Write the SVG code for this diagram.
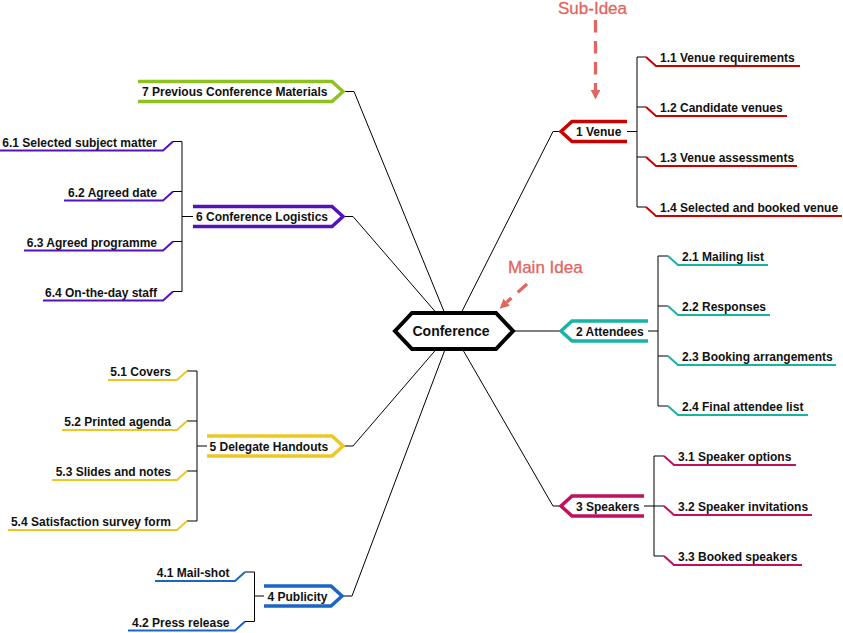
<svg xmlns="http://www.w3.org/2000/svg" width="843" height="633" viewBox="0 0 843 633">
<style>
text{font-family:"Liberation Sans",Arial,sans-serif;font-weight:bold;font-size:12px;fill:#111}
.l{text-anchor:end}
.conn{fill:none;stroke:#000;stroke-width:1}
.node{fill:none;stroke-width:3.5;stroke-linejoin:miter}
.sub{fill:none;stroke-width:2}
.ann{fill:none;stroke:#e06660;stroke-width:3.3;stroke-dasharray:12.5 8.5}
.annt{font-weight:normal;font-size:17px;fill:#e06660;stroke:#e06660;stroke-width:0.3}
</style>
<defs>
<marker id="ah" markerUnits="userSpaceOnUse" markerWidth="12" markerHeight="12" viewBox="0 -6 12 12" refX="0" refY="0" orient="auto">
<path d="M0,-4.8 L9.5,0 L0,4.8 z" fill="#e06660"/>
</marker>
</defs>
<g id="connectors">
<path class="conn" d="M452,331 L553,131.5 L561,131.5"/>
<path class="conn" d="M452,331 L561,331"/>
<path class="conn" d="M452,331 L553,506 L561,506"/>
<path class="conn" d="M452,331 L352,596 L342,596"/>
<path class="conn" d="M452,331 L353,446 L343,446"/>
<path class="conn" d="M452,331 L353,216.5 L343,216.5"/>
<path class="conn" d="M452,331 L354,91.5 L343,91.5"/>
<path class="conn" d="M627,131.5 H637 M637,57 V207 M637,57 H646 M637,107 H646 M637,157 H646 M637,207 H646"/>
<path class="conn" d="M648,331 H658 M658,256 V406 M658,256 H668 M658,306 H668 M658,356 H668 M658,406 H668"/>
<path class="conn" d="M644,506 H664 M654,456 V556 M654,456 H664 M654,556 H664"/>
<path class="conn" d="M193,216.5 H182 M182,141.5 V291.5 M182,141.5 H173 M182,191.5 H173 M182,241.5 H173 M182,291.5 H173"/>
<path class="conn" d="M207,446 H197 M197,371 V521 M197,371 H187 M197,421 H187 M197,471 H187 M197,521 H187"/>
<path class="conn" d="M264,596 H254.5 M254.5,572 V621.5 M254.5,572 H245 M254.5,621.5 H245"/>
</g>
<g id="main">
<polygon points="395,331 412,313 496,313 513,331 496,349 412,349" fill="#fff" stroke="#000" stroke-width="4"/>
<text x="451" y="336" text-anchor="middle" style="font-size:14px">Conference</text>
</g>
<g id="n1">
<polyline class="node" stroke="#c80000" points="627,121.5 572,121.5 561,131.5 572,141.5 627,141.5"/>
<text x="576" y="136">1 Venue</text>
</g>
<g id="n1-1"><polyline class="sub" stroke="#c80000" points="646,57 656,66 800,66"/><text x="660" y="62">1.1 Venue requirements</text></g>
<g id="n1-2"><polyline class="sub" stroke="#c80000" points="646,107 656,116 787,116"/><text x="660" y="112">1.2 Candidate venues</text></g>
<g id="n1-3"><polyline class="sub" stroke="#c80000" points="646,157 656,166 797,166"/><text x="660" y="162">1.3 Venue assessments</text></g>
<g id="n1-4"><polyline class="sub" stroke="#c80000" points="646,207 656,216 842,216"/><text x="660" y="212">1.4 Selected and booked venue</text></g>
<g id="n2">
<polyline class="node" stroke="#17b4a4" points="648,321 572,321 561,331 572,341 648,341"/>
<text x="576" y="335.5">2 Attendees</text>
</g>
<g id="n2-1"><polyline class="sub" stroke="#17b4a4" points="668,256 678,265 768,265"/><text x="682" y="261">2.1 Mailing list</text></g>
<g id="n2-2"><polyline class="sub" stroke="#17b4a4" points="668,306 678,315 770,315"/><text x="682" y="311">2.2 Responses</text></g>
<g id="n2-3"><polyline class="sub" stroke="#17b4a4" points="668,356 678,365 836,365"/><text x="682" y="361">2.3 Booking arrangements</text></g>
<g id="n2-4"><polyline class="sub" stroke="#17b4a4" points="668,406 678,415 808,415"/><text x="682" y="411">2.4 Final attendee list</text></g>
<g id="n3">
<polyline class="node" stroke="#c0105f" points="644,496 572,496 561,506 572,516 644,516"/>
<text x="576" y="510.5">3 Speakers</text>
</g>
<g id="n3-1"><polyline class="sub" stroke="#c0105f" points="664,456 674,465 796,465"/><text x="678" y="461">3.1 Speaker options</text></g>
<g id="n3-2"><polyline class="sub" stroke="#c0105f" points="664,506 674,515 812,515"/><text x="678" y="511">3.2 Speaker invitations</text></g>
<g id="n3-3"><polyline class="sub" stroke="#c0105f" points="664,556 674,565 802,565"/><text x="678" y="561">3.3 Booked speakers</text></g>
<g id="n4">
<polyline class="node" stroke="#1a66c2" points="264,586 331,586 342,596 331,606 264,606"/>
<text x="267.5" y="600.5">4 Publicity</text>
</g>
<g id="n4-1"><polyline class="sub" stroke="#1a66c2" points="245,572 235,581 155,581"/><text class="l" x="229.5" y="577">4.1 Mail-shot</text></g>
<g id="n4-2"><polyline class="sub" stroke="#1a66c2" points="245,621.5 235,630.5 128,630.5"/><text class="l" x="229.5" y="626.5">4.2 Press release</text></g>
<g id="n5">
<polyline class="node" stroke="#ecc825" points="207,436 332,436 343,446 332,456 207,456"/>
<text x="209.5" y="450.5">5 Delegate Handouts</text>
</g>
<g id="n5-1"><polyline class="sub" stroke="#ecc825" points="187,371 177,380 108,380"/><text class="l" x="171" y="376">5.1 Covers</text></g>
<g id="n5-2"><polyline class="sub" stroke="#ecc825" points="187,421 177,430 62,430"/><text class="l" x="171" y="426">5.2 Printed agenda</text></g>
<g id="n5-3"><polyline class="sub" stroke="#ecc825" points="187,471 177,480 52,480"/><text class="l" x="171" y="476">5.3 Slides and notes</text></g>
<g id="n5-4"><polyline class="sub" stroke="#ecc825" points="187,521 177,530 8,530"/><text class="l" x="171" y="526">5.4 Satisfaction survey form</text></g>
<g id="n6">
<polyline class="node" stroke="#5412b8" points="193,206.5 332,206.5 343,216.5 332,226.5 193,226.5"/>
<text x="196" y="221">6 Conference Logistics</text>
</g>
<g id="n6-1"><polyline class="sub" stroke="#5412b8" points="173,141.5 163,150.5 0,150.5"/><text class="l" x="157" y="146.5">6.1 Selected subject matter</text></g>
<g id="n6-2"><polyline class="sub" stroke="#5412b8" points="173,191.5 163,200.5 64,200.5"/><text class="l" x="157" y="196.5">6.2 Agreed date</text></g>
<g id="n6-3"><polyline class="sub" stroke="#5412b8" points="173,241.5 163,250.5 24,250.5"/><text class="l" x="157" y="246.5">6.3 Agreed programme</text></g>
<g id="n6-4"><polyline class="sub" stroke="#5412b8" points="173,291.5 163,300.5 43,300.5"/><text class="l" x="157" y="296.5">6.4 On-the-day staff</text></g>
<g id="n7">
<polyline class="node" stroke="#8dc21f" points="138,81.5 332,81.5 343,91.5 332,101.5 138,101.5"/>
<text x="142" y="96">7 Previous Conference Materials</text>
</g>
<g id="annotations">
<text class="annt" x="558" y="13.5">Sub-Idea</text>
<path class="ann" d="M595.5,20 V90" marker-end="url(#ah)"/>
<text class="annt" x="508" y="273">Main Idea</text>
<path class="ann" d="M527,284 L506.7,302.3" marker-end="url(#ah)"/>
</g>
</svg>
